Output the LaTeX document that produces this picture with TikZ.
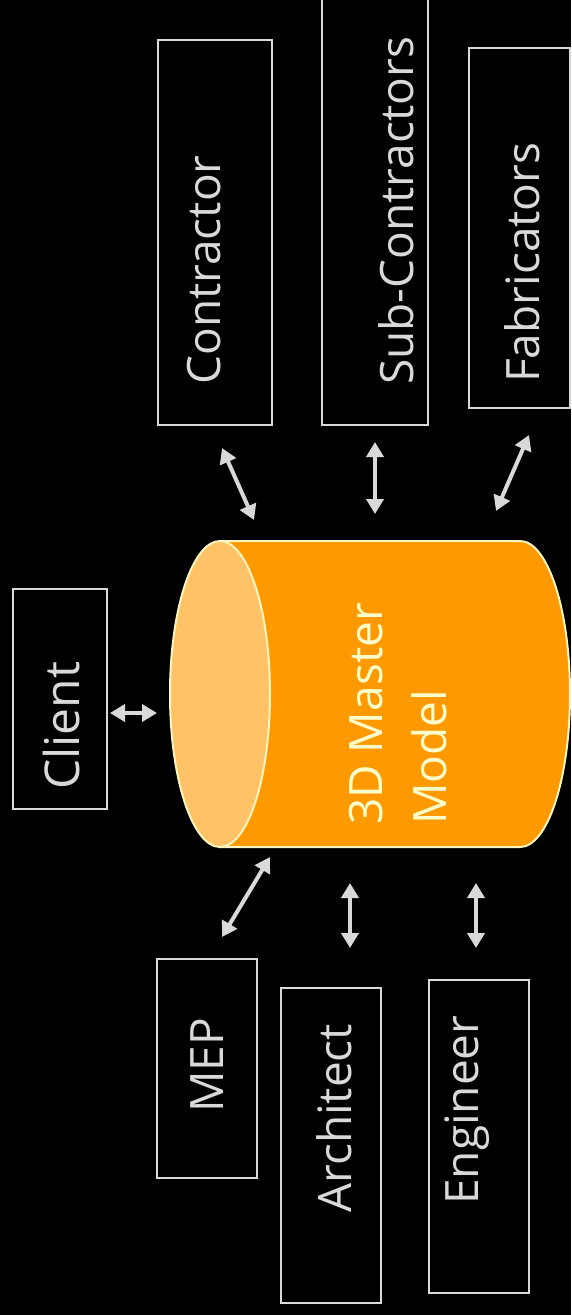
\documentclass[tikz,border=0pt]{standalone}
\usepackage{fontspec}
\setmainfont{Open Sans}
\usetikzlibrary{arrows.meta}
\definecolor{fg}{HTML}{D9D9D9}
\definecolor{body}{HTML}{FF9900}
\definecolor{face}{HTML}{FFC266}
\definecolor{rim}{HTML}{FFF5C0}
\definecolor{mtext}{HTML}{FFFFCC}
\begin{document}
\begin{tikzpicture}[x=1pt,y=-1pt,
  box/.style={draw=fg, line width=2pt, inner sep=0pt},
  lbl/.style={text=fg, rotate=90, anchor=base west, inner sep=0pt, font=\fontsize{46}{58}\selectfont},
  mlbl/.style={text=mtext, rotate=90, anchor=base west, inner sep=0pt, font=\fontsize{46}{58}\selectfont},
  link/.style={draw=fg, line width=4pt, {Triangle[length=15pt,width=17pt]}-{Triangle[length=15pt,width=17pt]}}]
\fill[black] (0,0) rectangle (571,1315);
\useasboundingbox (0,0) rectangle (571,1315);
% boxes
\node[box, minimum width=114pt, minimum height=385pt] (contractor) at (215,232.5) {};
\node[box, minimum width=106pt, minimum height=427pt] (subcon) at (375,211.5) {};
\node[box, minimum width=101pt, minimum height=360pt] (fab) at (519.5,228) {};
\node[box, minimum width=94pt, minimum height=220pt] (client) at (60,699) {};
\node[box, minimum width=100pt, minimum height=219pt] (mep) at (207,1068.5) {};
\node[box, minimum width=100pt, minimum height=315pt] (arch) at (331,1145.5) {};
\node[box, minimum width=100pt, minimum height=313pt] (eng) at (479,1136.5) {};
% labels
\node[lbl] (tcontractor) at (220,385) {Contractor};
\node[lbl] (tsubcon) at (413,385) {Sub-Contractors};
\node[lbl] (tfab) at (539,383) {Fabricators};
\node[lbl, font=\fontsize{48}{60}\selectfont] (tclient) at (79,790) {Client};
\node[lbl] (tmep) at (223,1113) {MEP};
\node[lbl] (tarch) at (351,1213) {Architect};
\node[lbl] (teng) at (478,1205) {Engineer};
% cylinder
\draw[rim, line width=2pt, fill=body] (220,541) -- (520,541)
  arc[start angle=-90, end angle=90, x radius=50, y radius=153] -- (220,847) -- cycle;
\draw[rim, line width=2pt, fill=face] (220,694) ellipse [x radius=50, y radius=153];
\coordinate (model) at (370,694);
\node[mlbl] (tm1) at (382,825) {3D Master};
\node[mlbl] (tm2) at (446,825) {Model};
% connectors
\coordinate (a1) at (222,448); \coordinate (a2) at (254,520);
\coordinate (b1) at (375,442); \coordinate (b2) at (375,514);
\coordinate (f1) at (529,435); \coordinate (f2) at (496,511);
\coordinate (k1) at (110,713); \coordinate (k2) at (157,713);
\coordinate (m1) at (270,857); \coordinate (m2) at (222,937);
\coordinate (r1) at (350,883); \coordinate (r2) at (350,948);
\coordinate (e1) at (476,883); \coordinate (e2) at (476,948);
\draw[link] (a1) -- (a2);
\draw[link] (b1) -- (b2);
\draw[link] (f1) -- (f2);
\draw[link] (k1) -- (k2);
\draw[link] (m1) -- (m2);
\draw[link] (r1) -- (r2);
\draw[link] (e1) -- (e2);
\end{tikzpicture}
\end{document}
